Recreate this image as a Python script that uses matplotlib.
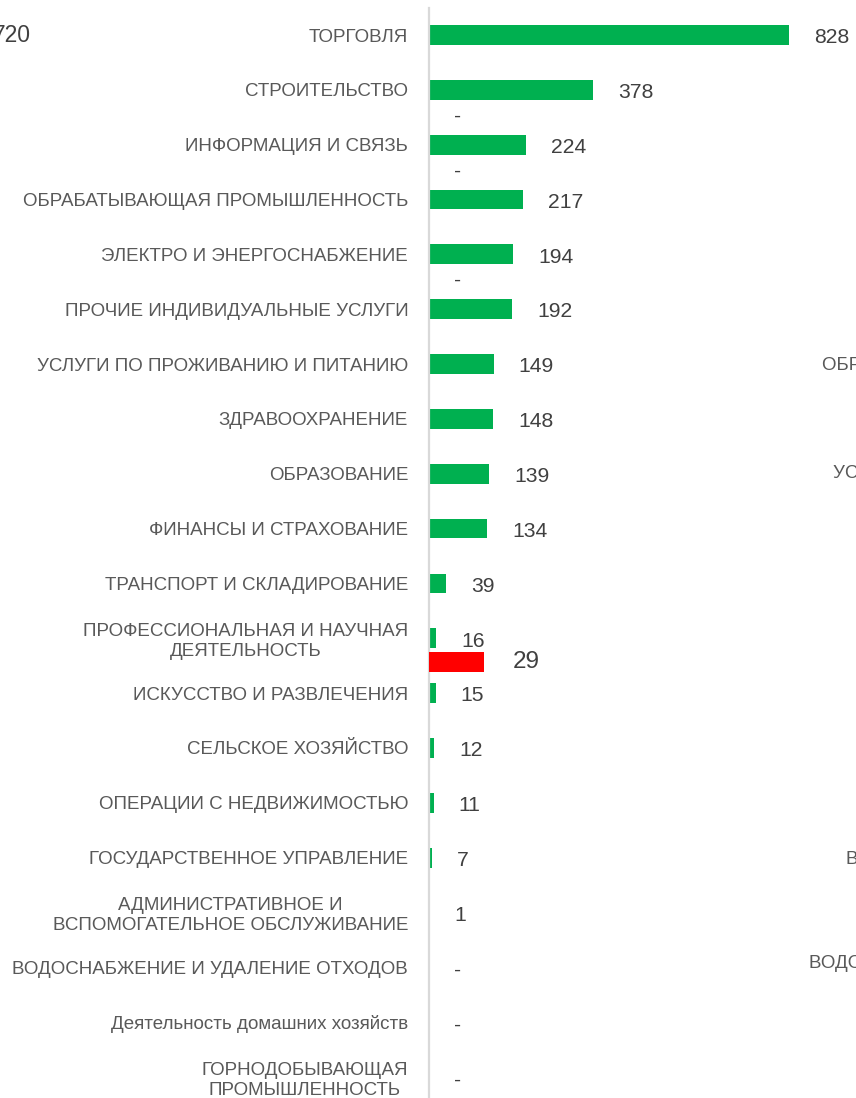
import matplotlib.pyplot as plt

plt.rcParams['font.family'] = ['Liberation Sans', 'DejaVu Sans']

# companies by industry
categories = [
    "ТОРГОВЛЯ",
    "СТРОИТЕЛЬСТВО",
    "ИНФОРМАЦИЯ И СВЯЗЬ",
    "ОБРАБАТЫВАЮЩАЯ ПРОМЫШЛЕННОСТЬ",
    "ЭЛЕКТРО И ЭНЕРГОСНАБЖЕНИЕ",
    "ПРОЧИЕ ИНДИВИДУАЛЬНЫЕ УСЛУГИ",
    "УСЛУГИ ПО ПРОЖИВАНИЮ И ПИТАНИЮ",
    "ЗДРАВООХРАНЕНИЕ",
    "ОБРАЗОВАНИЕ",
    "ФИНАНСЫ И СТРАХОВАНИЕ",
    "ТРАНСПОРТ И СКЛАДИРОВАНИЕ",
    "ПРОФЕССИОНАЛЬНАЯ И НАУЧНАЯ\nДЕЯТЕЛЬНОСТЬ",
    "ИСКУССТВО И РАЗВЛЕЧЕНИЯ",
    "СЕЛЬСКОЕ ХОЗЯЙСТВО",
    "ОПЕРАЦИИ С НЕДВИЖИМОСТЬЮ",
    "ГОСУДАРСТВЕННОЕ УПРАВЛЕНИЕ",
    "АДМИНИСТРАТИВНОЕ И\nВСПОМОГАТЕЛЬНОЕ ОБСЛУЖИВАНИЕ",
    "ВОДОСНАБЖЕНИЕ И УДАЛЕНИЕ ОТХОДОВ",
    "Деятельность домашних хозяйств",
    "ГОРНОДОБЫВАЮЩАЯ\nПРОМЫШЛЕННОСТЬ",
]
values = [828, 378, 224, 217, 194, 192, 149, 148, 139, 134,
          39, 16, 15, 12, 11, 7, 1, 0, 0, 0]

# second series (own scale), drawn under some rows
extra_rows = [1, 2, 4, 11]
extra_values = [0, 0, 0, 29]

# total shown at the left edge
total_text = "720"
# labels of the neighbouring chart, cut by the right edge
side_labels = [
    (822, 366, "ОБРАБАТЫВАЮЩАЯ ПРОМЫШЛЕННОСТЬ"),
    (833, 474, "УСЛУГИ ПО ПРОЖИВАНИЮ И ПИТАНИЮ"),
    (846, 860, "ВСПОМОГАТЕЛЬНОЕ ОБСЛУЖИВАНИЕ"),
    (809, 964, "ВОДОСНАБЖЕНИЕ И УДАЛЕНИЕ ОТХОДОВ"),
]

GREEN = "#00B050"
RED = "#FF0000"
LABEL_C = "#595959"
VALUE_C = "#404040"

W, H = 856, 1098
fig = plt.figure(figsize=(W / 100, H / 100), dpi=100)

n = len(categories)
pitch = (1077 - 35) / (n - 1)
top_px = 35 - pitch / 2
bot_px = 1077 + pitch / 2
ax_left = 429
ax = fig.add_axes([ax_left / W, (H - bot_px) / H, (W - ax_left) / W, (bot_px - top_px) / H])

ypos = list(range(n))
ax.barh(ypos, values, height=0.36, color=GREEN)
ax.set_xlim(0, (W - ax_left) / (360 / 828))
ax.set_ylim(n - 0.5, -0.5)

for y, v in zip(ypos, values):
    ax.annotate("-" if v == 0 else str(v), (v, y), xytext=(18, -2), textcoords="offset points",
                va="center", ha="left", fontsize=15.2, color=VALUE_C)

ax.set_yticks(ypos)
ax.set_yticklabels(categories)
for lbl in ax.get_yticklabels():
    lbl.set_multialignment("center")
    lbl.set_linespacing(1.2)
    lbl.set_fontsize(13.5)
    lbl.set_color(LABEL_C)
ax.tick_params(axis="y", length=0, pad=15)
ax.tick_params(axis="x", bottom=False, labelbottom=False)
for side in ("top", "right", "bottom"):
    ax.spines[side].set_visible(False)
ax.spines["left"].set_color("#d9d9d9")
ax.spines["left"].set_linewidth(1.6)

# second series on its own horizontal scale
ax2 = ax.twiny()
ex_y = [r + 0.43 for r in extra_rows]
ax2.barh(ex_y, extra_values, height=0.36, color=RED)
ax2.set_xlim(0, 29 * (W - ax_left) / 55)
ax2.set_ylim(n - 0.5, -0.5)
ax2.axis("off")
for y, v in zip(ex_y, extra_values):
    if v == 0:
        ax2.annotate("-", (v, y), xytext=(18, -2), textcoords="offset points",
                     va="center", ha="left", fontsize=15.2, color=VALUE_C)
    else:
        ax2.annotate(str(v), (v, y), xytext=(21, 0), textcoords="offset points",
                     va="center", ha="left", fontsize=17.5, color=VALUE_C)

fig.text(-7 / W, 1 - 36 / H, total_text, ha="left", va="center", fontsize=16.5, color=VALUE_C)
for x, y, s in side_labels:
    fig.text(x / W, 1 - y / H, s, ha="left", va="center", fontsize=13.5, color=LABEL_C)

fig.savefig("out.png", dpi=100, facecolor="white")
